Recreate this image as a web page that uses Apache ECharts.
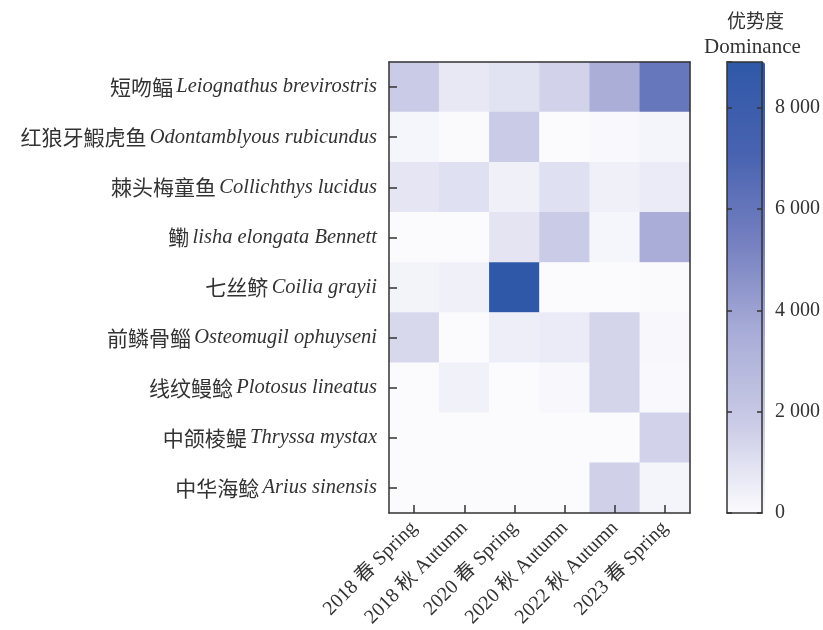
<!DOCTYPE html>
<html>
<head>
<meta charset="utf-8">
<script src="https://cdn.jsdelivr.net/npm/echarts@6/dist/echarts.min.js"></script>
<style>html,body{margin:0;padding:0;background:#fff;}#c{width:823px;height:630px;}</style>
</head>
<body>
<div id="c"></div>
<script>
// Seasons (x categories)
const seasons = ['2018 春 Spring', '2018 秋 Autumn', '2020 春 Spring', '2020 秋 Autumn', '2022 秋 Autumn', '2023 春 Spring'];
// Species (y categories): Chinese name and Latin name
const speciesCn = ['短吻鲾', '红狼牙鰕虎鱼', '棘头梅童鱼', '鳓', '七丝鲚', '前鳞骨鲻', '线纹鳗鲶', '中颌棱鳀', '中华海鲶'];
const speciesLatin = ['Leiognathus brevirostris', 'Odontamblyous rubicundus', 'Collichthys lucidus', 'lisha elongata Bennett', 'Coilia grayii', 'Osteomugil ophuyseni', 'Plotosus lineatus', 'Thryssa mystax', 'Arius sinensis'];
// Dominance values, one row per species, in season order
const leiognathus = [1800, 700, 900, 1500, 3400, 5900];
const odontamblyous = [200, 50, 1800, 0, 80, 250];
const collichthys = [800, 1000, 400, 1000, 400, 600];
const ilisha = [0, 0, 850, 1800, 200, 3500];
const coilia = [300, 400, 8900, 0, 0, 50];
const osteomugil = [1300, 0, 500, 600, 1400, 150];
const plotosus = [0, 350, 0, 150, 1400, 80];
const thryssa = [0, 0, 0, 0, 0, 1500];
const arius = [0, 0, 0, 0, 1550, 250];
const rows = [leiognathus, odontamblyous, collichthys, ilisha, coilia, osteomugil, plotosus, thryssa, arius];
// Colour bar
const scaleMin = 0;
const scaleMax = 8900;
const scaleTicks = [0, 2000, 4000, 6000, 8000];

const data = [];
rows.forEach((r, yi) => r.forEach((v, xi) => data.push([xi, yi, v])));

const serif = '"Liberation Serif", "DejaVu Serif", "Noto Sans CJK SC", serif';
const txt = '#333';
const line = {color: '#333', width: 1.5};
const aLine = {show: true, onZero: false, lineStyle: line};

const chart = echarts.init(document.getElementById('c'), null, {renderer: 'canvas'});
chart.setOption({
  backgroundColor: '#fff',
  animation: false,
  grid: [
    {left: 389, top: 62, width: 301, height: 451, show: false},
    {left: 727, top: 62, width: 38, height: 451, show: false}
  ],
  xAxis: [
    {
      type: 'category', data: seasons, gridIndex: 0, position: 'bottom', z: 10,
      axisLine: aLine,
      axisTick: {show: true, inside: true, alignWithLabel: true, length: 8, lineStyle: line},
      axisLabel: {rotate: 45, margin: 12, fontFamily: serif, fontSize: 20, color: txt, interval: 0},
      splitLine: {show: false}
    },
    {
      type: 'category', data: seasons, gridIndex: 0, position: 'top', z: 10,
      axisLine: aLine, axisTick: {show: false}, axisLabel: {show: false}
    },
    {
      type: 'value', gridIndex: 1, position: 'bottom', z: 10, min: 0, max: 1,
      axisLine: aLine, axisTick: {show: false}, axisLabel: {show: false}, splitLine: {show: false}
    },
    {
      type: 'value', gridIndex: 1, position: 'top', z: 10, min: 0, max: 1,
      axisLine: aLine, axisTick: {show: false}, axisLabel: {show: false}, splitLine: {show: false}
    }
  ],
  yAxis: [
    {
      type: 'category', data: speciesCn, gridIndex: 0, inverse: true, position: 'left', z: 10,
      axisLine: aLine,
      axisTick: {show: true, inside: true, alignWithLabel: true, length: 8, lineStyle: line},
      axisLabel: {
        margin: 12, interval: 0,
        formatter: (v, i) => '{cn|' + v + '} {it|' + speciesLatin[i] + '}',
        rich: {
          cn: {fontFamily: '"Noto Sans CJK SC", sans-serif', fontSize: 21, color: txt},
          it: {fontFamily: serif, fontStyle: 'italic', fontSize: 20.5, color: txt}
        }
      }
    },
    {
      type: 'category', data: speciesCn, gridIndex: 0, inverse: true, position: 'right', z: 10,
      axisLine: aLine, axisTick: {show: false}, axisLabel: {show: false}
    },
    {
      type: 'value', gridIndex: 1, position: 'right', z: 10, min: scaleMin, max: scaleMax, interval: 2000,
      axisLine: aLine,
      axisTick: {show: true, inside: true, length: 5, lineStyle: line},
      axisLabel: {margin: 13, fontFamily: serif, fontSize: 20, color: txt, showMaxLabel: false,
        formatter: v => String(v).replace(/\B(?=(\d{3})+(?!\d))/g, ' ')},
      splitLine: {show: false}
    },
    {
      type: 'value', gridIndex: 1, position: 'left', z: 10, min: scaleMin, max: scaleMax, interval: 2000,
      axisLine: aLine,
      axisTick: {show: true, inside: true, length: 5, lineStyle: line},
      axisLabel: {show: false}, splitLine: {show: false}
    }
  ],
  visualMap: {
    type: 'continuous', seriesIndex: 0, min: scaleMin, max: scaleMax, z: 1,
    calculable: false, orient: 'vertical', left: 727, top: 62, padding: 0,
    itemWidth: 38, itemHeight: 451, text: null, showLabel: false,
    inRange: {color: ['#fbfbfe', '#cacbe6', '#a8acd7', '#7580c0', '#4862b0', '#2f58a8']}
  },
  series: [{
    type: 'heatmap', xAxisIndex: 0, yAxisIndex: 0, data: data, z: 2,
    itemStyle: {borderWidth: 0}, emphasis: {disabled: true}
  }],
  graphic: [
    {type: 'text', left: 727, top: 11, z: 100, style: {text: '优势度', font: '19px "Noto Sans CJK SC", sans-serif', fill: txt}},
    {type: 'text', left: 704, top: 37, z: 100, style: {text: 'Dominance', font: '21px ' + serif, fill: txt}}
  ]
});
</script>
</body>
</html>
